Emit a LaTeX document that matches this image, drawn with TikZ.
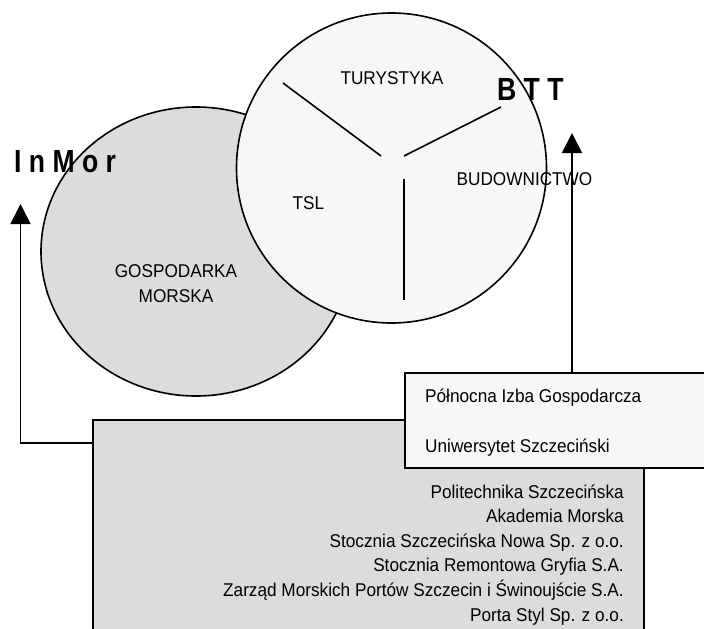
\documentclass[tikz,border=0pt]{standalone}
\usepackage{fontspec}
\setmainfont{Liberation Sans}[FakeStretch=0.93]
\newfontfamily\boldlabel{Liberation Sans}[FakeStretch=0.83]
\usetikzlibrary{shapes.geometric,arrows.meta,calc}
\definecolor{shade}{HTML}{DCDCDC}
\definecolor{pale}{HTML}{F7F7F7}
\begin{document}
\begin{tikzpicture}[x=1pt,y=-1pt,
  outline/.style={draw=black,line width=1.6pt},
  lbl/.style={inner sep=0pt,font=\fontsize{18.5}{22}\selectfont},
  biglbl/.style={inner sep=0pt,font=\boldlabel\bfseries\fontsize{32}{36}\selectfont},
  linkarrow/.style={line width=1.6pt,-{Triangle[width=20pt,length=20pt]}},
  spoke/.style={line width=1.6pt}]
\useasboundingbox (0,0) rectangle (704,629);
\clip (0,0) rectangle (704,629);
% shapes
\node[ellipse,outline,fill=shade,minimum width=310pt,minimum height=289pt,inner sep=0pt] (gosp) at (196,251.5) {};
\node[circle,outline,fill=pale,minimum size=310pt,inner sep=0pt] (sector) at (391.5,168) {};
% spokes
\coordinate (s1a) at (283,83);  \coordinate (s1b) at (381,156);
\coordinate (s2a) at (404,156); \coordinate (s2b) at (501,107);
\coordinate (s3a) at (404,179); \coordinate (s3b) at (404,300);
\draw[spoke] (s1a) -- (s1b);
\draw[spoke] (s2a) -- (s2b);
\draw[spoke] (s3a) -- (s3b);
% labels
\node[lbl,anchor=base] (tur) at (392,84) {TURYSTYKA};
\node[lbl,anchor=base] (tsl) at (308.5,209) {TSL};
\node[lbl,anchor=base] (bud) at (524.5,185.5) {BUDOWNICTWO};
\node[lbl,anchor=base] (gm1) at (176,277.5) {GOSPODARKA};
\node[lbl,anchor=base] (gm2) at (176,302.5) {MORSKA};
\node[biglbl,anchor=base west] (inmor) at (14,172) {I n M o r};
\node[biglbl,anchor=base west] (btt) at (497,100) {B T T};
% boxes
\node[outline,fill=shade,anchor=north west,minimum width=551pt,minimum height=300pt,inner sep=0pt] (gbox) at (92,419) {};
\node[outline,fill=pale,anchor=north west,minimum width=320pt,minimum height=95pt,inner sep=0pt] (wbox) at (404,372) {};
% arrows
\coordinate (inmortip) at (20.5,204);
\coordinate (btttip) at (572,133);
\draw[linkarrow] ([yshift=-24pt]gbox.north west) -| (inmortip);
\draw[linkarrow] ([xshift=168pt]wbox.north west) -- (btttip);
% box texts
\node[lbl,anchor=base west] (pig) at (425,402) {Północna Izba Gospodarcza};
\node[lbl,anchor=base west] (us) at (425,452) {Uniwersytet Szczeciński};
\node[lbl,anchor=base east] (m1) at (624,498) {Politechnika Szczecińska};
\node[lbl,anchor=base east] (m2) at (624,522.5) {Akademia Morska};
\node[lbl,anchor=base east] (m3) at (624,547) {Stocznia Szczecińska Nowa Sp. z o.o.};
\node[lbl,anchor=base east] (m4) at (624,571.5) {Stocznia Remontowa Gryfia S.A.};
\node[lbl,anchor=base east] (m5) at (624,596.5) {Zarząd Morskich Portów Szczecin i Świnoujście S.A.};
\node[lbl,anchor=base east] (m6) at (624,621) {Porta Styl Sp. z o.o.};
\end{tikzpicture}
\end{document}
